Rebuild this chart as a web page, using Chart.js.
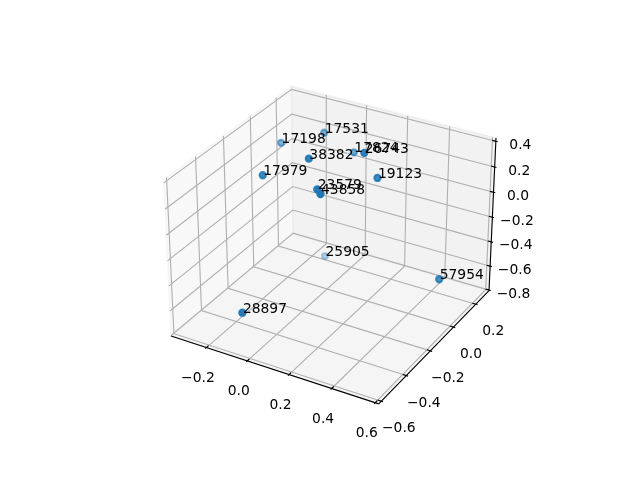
<!DOCTYPE html>
<html><head><meta charset="utf-8">
<script src="https://cdn.jsdelivr.net/npm/chart.js@4"></script>
<style>body{margin:0;background:#fff}canvas{display:block}</style>
</head><body><canvas id="c" width="640" height="480"></canvas>
<script>
const pointIds = ['17531','17198','38382','17824','26743','17979','19123','23579','43858','25905','57954','28897'];
const pointX = [-0.072,-0.219,0.013,0.073,0.206,-0.151,0.261,0.090,0.122,-0.016,0.572,-0.049];
const pointY = [0.096,-0.008,-0.161,0.095,-0.047,-0.253,-0.033,-0.222,-0.249,0.009,-0.058,-0.574];
const pointZ = [0.350,0.289,0.386,0.259,0.424,0.260,0.244,0.234,0.235,-0.546,-0.384,-0.488];
const xTicks = [-0.2,0,0.2,0.4,0.6];
const yTicks = [-0.6,-0.4,-0.2,0,0.2];
const zTicks = [-0.8,-0.6,-0.4,-0.2,0,0.2,0.4];
const xLim = [-0.376,0.616], yLim = [-0.62,0.322], zLim = [-0.805,0.425];

// same camera as a default mplot3d axes (elev 30, azim -60, box 4:4:3)
const box = [1.19048,1.19048,0.89286];
const w = [0.4330127,-0.75,0.5], u = [0.8660254,0.5,0], v = [-0.25,0.4330127,0.8660254];
const dot = (a,b) => a[0]*b[0]+a[1]*b[1]+a[2]*b[2];
function project(x,y,z){
  const r = [
    (x-xLim[0])/(xLim[1]-xLim[0])*box[0]-box[0]/2,
    (y-yLim[0])/(yLim[1]-yLim[0])*box[1]-box[1]/2,
    (z-zLim[0])/(zLim[1]-zLim[0])*box[2]-box[2]/2
  ];
  const d = 10-dot(w,r);
  return {x:dot(u,r)/d, y:dot(v,r)/d, q:dot(w,r)};
}

const GRID = '#b0b0b0', LW = 1.11;
const path = (pts,color,width,order) => ({data:pts.map(p=>project(...p)),showLine:true,borderColor:color,borderWidth:width,pointRadius:0,fill:false,tension:0,clip:false,order});
const [x0,x1] = xLim, [y0,y1] = yLim, [z0,z1] = zLim;
const dx = (x1-x0)/12, dy = (y1-y0)/12;
const datasets = [];
xTicks.forEach(t=>datasets.push(path([[t,y0,z0],[t,y1,z0],[t,y1,z1]],GRID,LW,4)));
yTicks.forEach(t=>datasets.push(path([[x1,t,z0],[x0,t,z0],[x0,t,z1]],GRID,LW,4)));
zTicks.forEach(t=>datasets.push(path([[x0,y0,t],[x0,y1,t],[x1,y1,t]],GRID,LW,4)));
datasets.push(path([[x0,y0,z0],[x1,y0,z0]],'#000',LW,3));
datasets.push(path([[x1,y0,z0],[x1,y1,z0]],'#000',LW,3));
datasets.push(path([[x1,y1,z0],[x1,y1,z1]],'#000',LW,3));
xTicks.forEach(t=>datasets.push(path([[t,y0+0.2*dy,z0],[t,y0-0.1*dy,z0]],'#000',LW,2)));
yTicks.forEach(t=>datasets.push(path([[x1-0.2*dx,t,z0],[x1+0.1*dx,t,z0]],'#000',LW,2)));
zTicks.forEach(t=>datasets.push(path([[x1-0.2*dx,y1,t],[x1+0.1*dx,y1,t]],'#000',LW,2)));

// far points first, alpha from depth like depthshade
const marks = pointIds.map((id,i)=>({id,...project(pointX[i],pointY[i],pointZ[i])})).sort((a,b)=>a.q-b.q);
const qMin = marks[0].q, qMax = marks[marks.length-1].q;
const colors = marks.map(m=>`rgba(31,119,180,${0.3+0.7*(m.q-qMin)/(qMax-qMin)})`);
datasets.push({data:marks,backgroundColor:colors,borderColor:colors,borderWidth:2.08,pointRadius:3.1,clip:false,order:1});

const fmt = t => t.toFixed(1).replace('-','\u2212');
const panes = [
  {c:'rgba(242,242,242,0.5)',p:[[x0,y0,z0],[x0,y1,z0],[x0,y1,z1],[x0,y0,z1]]},
  {c:'rgba(230,230,230,0.5)',p:[[x0,y1,z0],[x1,y1,z0],[x1,y1,z1],[x0,y1,z1]]},
  {c:'rgba(236,236,236,0.5)',p:[[x0,y0,z0],[x1,y0,z0],[x1,y1,z0],[x0,y1,z0]]}
];
const scene = {
  id:'scene',
  beforeDatasetsDraw(chart){
    const g = chart.ctx, X = chart.scales.x, Y = chart.scales.y;
    panes.forEach(pane=>{
      g.beginPath();
      pane.p.forEach(p=>{const s = project(...p); g.lineTo(X.getPixelForValue(s.x),Y.getPixelForValue(s.y));});
      g.closePath();
      g.fillStyle = pane.c; g.fill();
      g.strokeStyle = pane.c; g.lineWidth = 1.39; g.stroke();
    });
  },
  afterDatasetsDraw(chart){
    const g = chart.ctx, X = chart.scales.x, Y = chart.scales.y;
    g.save();
    g.font = '13.89px "DejaVu Sans"';
    g.fillStyle = '#000';
    g.textAlign = 'center'; g.textBaseline = 'middle';
    const tick = (s,t,ox,oy) => g.fillText(fmt(t),X.getPixelForValue(s.x)+ox,Y.getPixelForValue(s.y)+oy);
    xTicks.forEach(t=>tick(project(t,y0,z0),t,-8.5,30.5));
    yTicks.forEach(t=>tick(project(x1,t,z0),t,17.5,27.5));
    zTicks.forEach(t=>tick(project(x1,y1,t),t,24.5,4));
    g.textAlign = 'left'; g.textBaseline = 'alphabetic';
    pointIds.forEach((id,i)=>{
      const s = project(pointX[i],pointY[i],pointZ[i]);
      g.fillText(id,X.getPixelForValue(s.x)+0.5,Y.getPixelForValue(s.y));
    });
    g.restore();
  }
};

new Chart(document.getElementById('c'),{
  type:'scatter',
  data:{datasets},
  plugins:[scene],
  options:{
    responsive:false,
    animation:false,
    layout:{padding:{left:143.2,right:127.2,top:57.6,bottom:52.8}},
    plugins:{legend:{display:false},tooltip:{enabled:false}},
    scales:{
      x:{type:'linear',display:false,min:-0.095,max:0.09},
      y:{type:'linear',display:false,min:-0.095,max:0.09}
    }
  }
});
</script></body></html>
